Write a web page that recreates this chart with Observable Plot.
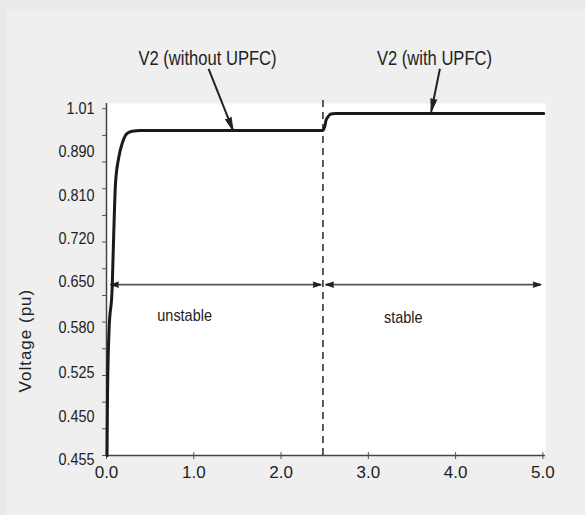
<!DOCTYPE html>
<html>
<head>
<meta charset="utf-8">
<script src="https://cdn.jsdelivr.net/npm/d3@7"></script>
<script src="https://cdn.jsdelivr.net/npm/@observablehq/plot@0.6"></script>
<style>
  html, body { margin: 0; padding: 0; width: 585px; height: 515px; overflow: hidden; background: #e9e9e9; }
  #bg { position: absolute; left: 6px; top: 9px; right: 0; bottom: 0; background: #efefef; }
  #chart { position: absolute; left: 0; top: 0; }
</style>
</head>
<body>
<div id="bg"></div>
<div id="chart"></div>
<script>
// Time axis (s)
const xTicks = [0, 1, 2, 3, 4, 5];
// Y axis: tick labels exactly as printed (non-uniform), at equally spaced positions
const yTickLabels = ["0.455", "0.450", "0.525", "0.580", "0.650", "0.720", "0.810", "0.890", "1.01"];
const yLabelPos   = [-0.1, 0.9, 1.9, 2.95, 4, 5, 6, 7, 8];
// V2 trace (time, position on the printed voltage axis)
const timeS      = [0.006, 0.011, 0.029, 0.065, 0.074, 0.084, 0.103, 0.141, 0.18, 0.237, 0.294, 0.39, 2.475, 2.50, 2.515, 2.54, 2.57, 2.62, 5.01];
const voltagePos = [0, 1.27, 2.88, 3.88, 4.5, 5.19, 6.27, 6.88, 7.2, 7.43, 7.48, 7.5, 7.5, 7.59, 7.73, 7.82, 7.88, 7.89, 7.89];
// switching instant
const switchTime = [2.48];
// region spans (double arrows)
const spanStart = [0.046, 2.51];
const spanEnd   = [2.46, 4.98];
const spanLevel = 3.94;
const regionLabels = ["unstable", "stable"];
const regionLabelX = [0.895, 3.40];
const regionLabelY = [3.23, 3.18];
// annotations
const noteLabels = ["V2 (without UPFC)", "V2 (with UPFC)"];
const noteX = [1.157, 3.758];
const noteY = [9.16, 9.16];
const pointerFromX = [1.17, 3.82];
const pointerFromY = [8.92, 8.92];
const pointerToX   = [1.45, 3.72];
const pointerToY   = [7.50, 7.93];
const pointerAngle = [158.5, -168];

const trace = timeS.map((t, i) => ({t, v: voltagePos[i]}));
const spans = spanStart.map((s, i) => ({x1: s, x2: spanEnd[i], y: spanLevel}));
const heads = [];
spans.forEach(s => { heads.push({x: s.x1, y: s.y, a: -90}); heads.push({x: s.x2, y: s.y, a: 90}); });
const regions = regionLabels.map((l, i) => ({l, x: regionLabelX[i], y: regionLabelY[i]}));
const notes = noteLabels.map((l, i) => ({l, x: noteX[i], y: noteY[i]}));
const pointers = pointerFromX.map((x, i) => ({x1: x, y1: pointerFromY[i], x2: pointerToX[i], y2: pointerToY[i], a: pointerAngle[i]}));
const minorTicks = d3.range(0, 14).map(i => i * 8 / 13);
const labelMap = new Map(yLabelPos.map((p, i) => [p, yTickLabels[i]]));

const sans = '"Liberation Sans", Arial, sans-serif';

const chart = Plot.plot({
  width: 585,
  height: 515,
  marginLeft: 106,
  marginRight: 40,
  marginTop: 103,
  marginBottom: 60,
  style: { background: "transparent", fontFamily: sans, color: "#222" },
  x: { domain: [0, 5.03] },
  y: { domain: [0, 8.12] },
  marks: [
    Plot.frame({ fill: "white", stroke: "none" }),
    Plot.axisY({ ticks: minorTicks, tickSize: 4, tickFormat: () => "", stroke: "#555", label: null }),
    Plot.axisY({ ticks: yLabelPos, tickSize: 0, tickPadding: 12, tickFormat: d => labelMap.get(d), fontSize: 16, fill: "#222", label: null }),
    Plot.axisX({ ticks: xTicks, tickSize: 4, tickPadding: 6, tickFormat: d3.format(".1f"), fontSize: 17, fill: "#222", stroke: "#555", label: null }),
    Plot.axisX({ ticks: xTicks, tickSize: -3, tickFormat: () => "", stroke: "#555", label: null }),
    Plot.ruleX([0], { stroke: "#444", strokeWidth: 1.5 }),
    Plot.ruleY([0], { stroke: "#444", strokeWidth: 1.5 }),
    Plot.ruleX(switchTime, { y1: 0, y2: 8.3, stroke: "#333", strokeWidth: 1.6, strokeDasharray: "7,5", clip: false }),
    Plot.link(spans, { x1: "x1", x2: "x2", y1: "y", y2: "y", stroke: "#555", strokeWidth: 1.8 }),
    Plot.vector(heads, { x: "x", y: "y", rotate: "a", length: 8, r: 2.6, shape: "spike", anchor: "end", fill: "#222", stroke: "#222", strokeWidth: 1 }),
    Plot.line(trace, { x: "t", y: "v", stroke: "#1a1a1a", strokeWidth: 3, curve: "monotone-x" }),
    Plot.link(pointers, { x1: "x1", y1: "y1", x2: "x2", y2: "y2", stroke: "#222", strokeWidth: 2, clip: false }),
    Plot.vector(pointers, { x: "x2", y: "y2", rotate: "a", length: 13, r: 3, shape: "spike", anchor: "end", fill: "#222", stroke: "#222", strokeWidth: 1, clip: false }),
    Plot.text(regions, { x: "x", y: "y", text: "l", fontSize: 17, fill: "#222", clip: false }),
    Plot.text(notes, { x: "x", y: "y", text: "l", fontSize: 19.5, fill: "#222", clip: false }),
    Plot.text(["Voltage (pu)"], { frameAnchor: "left", textAnchor: "middle", y: [2.65], dx: -81, rotate: -90, fontSize: 17, fill: "#222", text: d => d, clip: false })
  ]
});
document.getElementById("chart").appendChild(chart);
// Condensed lettering for the annotations and y tick labels, as in the reference
chart.querySelectorAll("text").forEach(t => {
  const s = t.textContent;
  if (s === "Voltage (pu)") t.setAttribute("letter-spacing", "1");
  let k = 0;
  if (regionLabels.includes(s) || noteLabels.includes(s)) k = 0.85;
  else if (yTickLabels.includes(s)) k = 0.9;
  if (k) {
    const w = t.getComputedTextLength();
    t.setAttribute("textLength", (w * k).toFixed(1));
    t.setAttribute("lengthAdjust", "spacingAndGlyphs");
  }
});
</script>
</body>
</html>
